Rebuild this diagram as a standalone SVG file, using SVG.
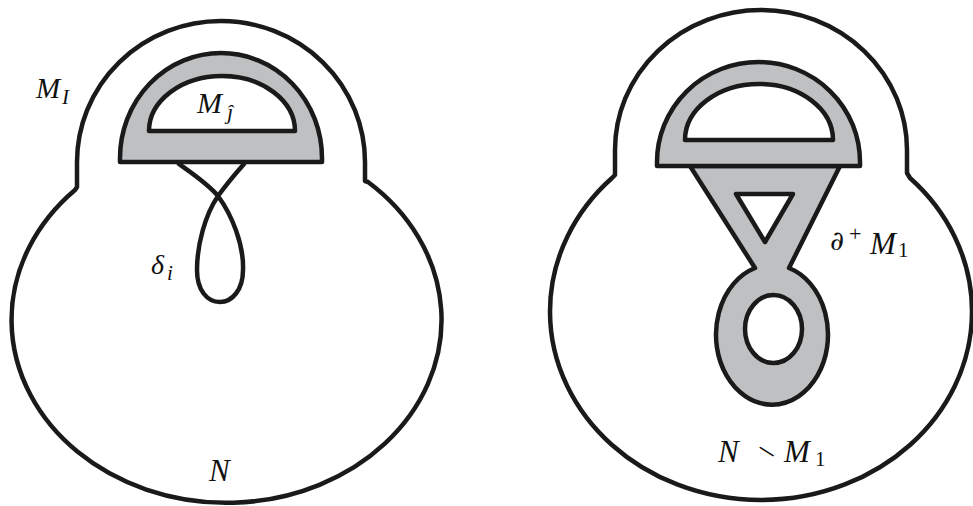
<svg xmlns="http://www.w3.org/2000/svg" width="973" height="506" viewBox="0 0 973 506">
<style>
.ln{fill:none;stroke:#1a1a1a;stroke-width:4.5;stroke-linejoin:round;stroke-linecap:round}
.wh{fill:#ffffff;stroke:#1a1a1a;stroke-width:4.5;stroke-linejoin:round}
.gr{fill:#bec0c2;stroke:#1a1a1a;stroke-width:4.5;stroke-linejoin:round}
text{fill:#111;font-family:"Liberation Serif","DejaVu Serif",serif}
.i{font-style:italic}
</style>
<rect width="973" height="506" fill="#ffffff"/>
<g id="left-figure">
  <g id="left-outer">
    <path class="wh" d="M75,190 L77,187 L77,162 A144,141 0 0 1 365,162 L365,181 L368,182 A215,183 0 1 1 75,190 Z"/>
  </g>
  <g id="left-halfdisc">
    <path class="gr" d="M120,162 L120,158 A101,105 0 0 1 322,158 L322,162 Z"/>
    <path class="wh" d="M149,131 A73,55 0 0 1 295,131 Z"/>
  </g>
  <g id="left-labels">
    <text class="i" x="36" y="98" font-size="29">M</text>
    <text class="i" x="62" y="104" font-size="21">I</text>
    <text class="i" x="197" y="113" font-size="30">M</text>
    <text class="i" x="227" y="119" font-size="22">ĵ</text>
    <text class="i" x="151" y="274" font-size="28">δ</text>
    <text class="i" x="167" y="280" font-size="21">i</text>
    <text class="i" x="209" y="481" font-size="31">N</text>
  </g>
</g>
<g id="connectors">
  <path class="ln" d="M179,164 C193,174 208,184 218,196 C232,215 244,245 243,270 C243,290 232,302 220,302 C207,302 197,290 197,270 C197,245 205,215 218,196 C226,185 236,173 244,164"/>
</g>
<g id="right-figure">
  <g id="right-outer">
    <path class="wh" d="M612,178 L615,175 L615,150 A146,140 0 0 1 907,150 L907,173 L910,178 A211,188.5 0 1 1 612,178 Z"/>
  </g>
  <g id="right-handle">
    <path class="gr" d="M690,166 L755,268 A56,70 0 1 0 789,268 L840,166 Z"/>
    <path class="wh" d="M736,194 L793,194 L765,242 Z"/>
    <ellipse class="wh" cx="773.5" cy="329" rx="28.5" ry="34"/>
  </g>
  <g id="right-halfdisc">
    <path class="gr" d="M657,166 L657,162 A101.5,100 0 0 1 860,162 L860,166 Z"/>
    <path class="wh" d="M685,140 A74,56 0 0 1 833,140 Z"/>
  </g>
  <g id="right-labels">
    <text x="830" y="250" font-size="27" style="font-family:'DejaVu Serif',serif">∂</text>
    <text x="849" y="241" font-size="22">+</text>
    <text class="i" x="870" y="254" font-size="31">M</text>
    <text x="898" y="257" font-size="21">1</text>
    <text class="i" x="718" y="462" font-size="31">N</text>
    <text transform="translate(766,452) rotate(-40)" x="0" y="0" text-anchor="middle" dominant-baseline="central" font-size="19" style="font-family:'DejaVu Sans',sans-serif">∖</text>
    <text class="i" x="784" y="462" font-size="31">M</text>
    <text x="815" y="466" font-size="21">1</text>
  </g>
</g>
</svg>
